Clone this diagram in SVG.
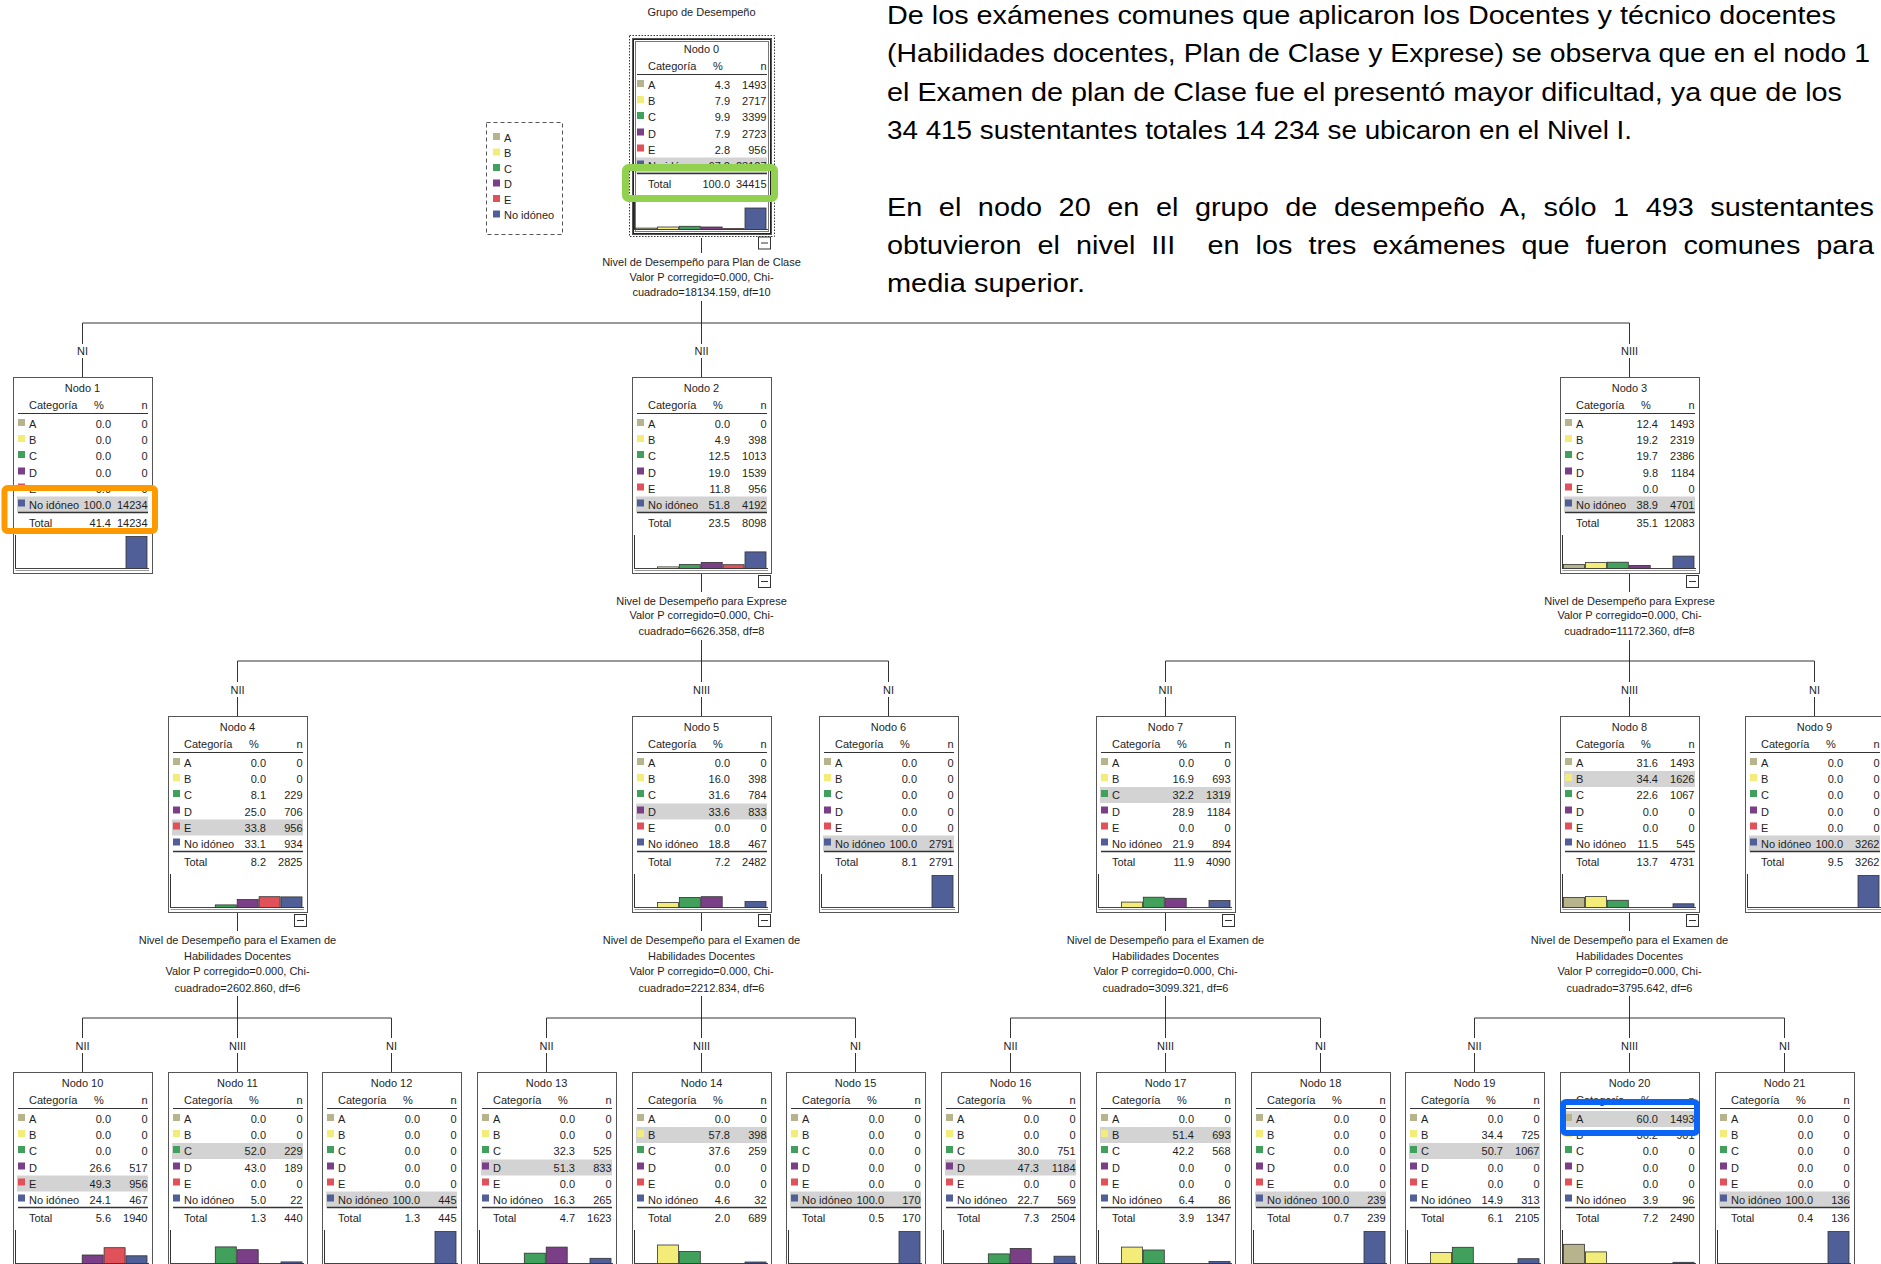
<svg xmlns="http://www.w3.org/2000/svg" xmlns:xlink="http://www.w3.org/1999/xlink" width="1881" height="1264" viewBox="0 0 1881 1264">
<style>
.t{font-family:"Liberation Sans",Arial,sans-serif;font-size:11px;fill:#1e1e1e}
.m{text-anchor:middle}
.e{text-anchor:end}
.p{font-family:"Liberation Sans",Arial,sans-serif;font-size:25px;fill:#000}
.bx{fill:#fff;stroke:#555;stroke-width:1}
.ln{stroke:#333;stroke-width:1;fill:none}
.hl{fill:#d3d3d3}
.b{stroke:#333;stroke-width:0.8}
.cA{fill:#b7b38c}.cB{fill:#f3ec78}.cC{fill:#40a05c}.cD{fill:#7b3f87}.cE{fill:#e0515a}.cN{fill:#505f97}
</style>
<defs>
<rect id="bg" class="bx" x="0.5" y="0.5" width="139" height="196"/>
<g id="fg">
<text class="t" x="16" y="32">Categoría</text><text class="t" x="81" y="32">%</text><text class="t e" x="134.5" y="32">n</text>
<line class="ln" x1="5" y1="36.5" x2="135" y2="36.5"/>
<rect class="cA" x="5" y="42" width="7" height="7"/><text class="t" x="16" y="51">A</text>
<rect class="cB" x="5" y="58" width="7" height="7"/><text class="t" x="16" y="67">B</text>
<rect class="cC" x="5" y="74" width="7" height="7"/><text class="t" x="16" y="83">C</text>
<rect class="cD" x="5" y="90.5" width="7" height="7"/><text class="t" x="16" y="99.5">D</text>
<rect class="cE" x="5" y="106.5" width="7" height="7"/><text class="t" x="16" y="115.5">E</text>
<rect class="cN" x="5" y="122.5" width="7" height="7"/><text class="t" x="16" y="131.5">No idóneo</text>
<line x1="5" y1="135.5" x2="135" y2="135.5" stroke="#333" stroke-width="1.6"/>
<text class="t" x="16" y="150">Total</text>
<line class="ln" x1="2.5" y1="158" x2="2.5" y2="192"/>
<line x1="2.5" y1="191.5" x2="136" y2="191.5" stroke="#444" stroke-width="1"/>
<line x1="2.5" y1="193.5" x2="136" y2="193.5" stroke="#999" stroke-width="1"/>
</g>
<g id="minus"><rect x="126.5" y="198.5" width="12" height="12" fill="#fff" stroke="#333"/><line x1="129" y1="204.5" x2="136" y2="204.5" stroke="#333"/></g>
</defs>
<rect width="1881" height="1264" fill="#fff"/>

<g id="paragraph">
<text class="p" x="887" y="24" textLength="949" lengthAdjust="spacingAndGlyphs">De los exámenes comunes que aplicaron los Docentes y técnico docentes</text>
<text class="p" x="887" y="62" textLength="983" lengthAdjust="spacingAndGlyphs">(Habilidades docentes, Plan de Clase y Exprese) se observa que en el nodo 1</text>
<text class="p" x="887" y="101" textLength="955" lengthAdjust="spacingAndGlyphs">el Examen de plan de Clase fue el presentó mayor dificultad, ya que de los</text>
<text class="p" x="887" y="139" textLength="745" lengthAdjust="spacingAndGlyphs">34 415 sustentantes totales 14 234 se ubicaron en el Nivel I.</text>
<text class="p" x="887" y="216" textLength="987" lengthAdjust="spacingAndGlyphs" word-spacing="7.4">En el nodo 20 en el grupo de desempeño A, sólo 1 493 sustentantes</text>
<text class="p" x="887" y="254" textLength="987" lengthAdjust="spacingAndGlyphs" word-spacing="7">obtuvieron el nivel III&#160; en los tres exámenes que fueron comunes para</text>
<text class="p" x="887" y="292" textLength="198" lengthAdjust="spacingAndGlyphs">media superior.</text>
</g>

<g id="legend">
<rect x="486.5" y="122.5" width="76" height="112" fill="none" stroke="#555" stroke-dasharray="4,3"/>
<rect class="cA" x="493" y="133" width="7" height="7"/><text class="t" x="504" y="141.5">A</text>
<rect class="cB" x="493" y="148.5" width="7" height="7"/><text class="t" x="504" y="157">B</text>
<rect class="cC" x="493" y="164" width="7" height="7"/><text class="t" x="504" y="172.5">C</text>
<rect class="cD" x="493" y="179.5" width="7" height="7"/><text class="t" x="504" y="188">D</text>
<rect class="cE" x="493" y="195" width="7" height="7"/><text class="t" x="504" y="203.5">E</text>
<rect class="cN" x="493" y="210.5" width="7" height="7"/><text class="t" x="504" y="219">No idóneo</text>
</g>

<text class="t m" x="701.5" y="16">Grupo de Desempeño</text>

<g id="connectors" class="ln">
<line x1="701.5" y1="238" x2="701.5" y2="253"/>
<line x1="701.5" y1="301" x2="701.5" y2="323"/>
<line x1="82.5" y1="323" x2="1629.5" y2="323"/>
<path d="M82.5 323V344M82.5 358V377M701.5 323V344M701.5 358V377M1629.5 323V344M1629.5 358V377"/>
<path d="M701.5 573V592M701.5 640V661M237.5 661H888.5M237.5 661V682M237.5 697V716M701.5 661V682M701.5 697V716M888.5 661V682M888.5 697V716"/>
<path d="M1629.5 573V592M1629.5 640V661M1165.5 661H1814.5M1165.5 661V682M1165.5 697V716M1629.5 661V682M1629.5 697V716M1814.5 661V682M1814.5 697V716"/>
<path d="M237.5 912V931M237.5 996V1018M82.5 1018H391.5M82.5 1018V1038M82.5 1053V1072M237.5 1018V1038M237.5 1053V1072M391.5 1018V1038M391.5 1053V1072"/>
<path d="M701.5 912V931M701.5 996V1018M546.5 1018H855.5M546.5 1018V1038M546.5 1053V1072M701.5 1018V1038M701.5 1053V1072M855.5 1018V1038M855.5 1053V1072"/>
<path d="M1165.5 912V931M1165.5 996V1018M1010.5 1018H1320.5M1010.5 1018V1038M1010.5 1053V1072M1165.5 1018V1038M1165.5 1053V1072M1320.5 1018V1038M1320.5 1053V1072"/>
<path d="M1629.5 912V931M1629.5 996V1018M1474.5 1018H1784.5M1474.5 1018V1038M1474.5 1053V1072M1629.5 1018V1038M1629.5 1053V1072M1784.5 1018V1038M1784.5 1053V1072"/>
</g>
<g id="connector-labels" class="t m">
<text x="701.5" y="266">Nivel de Desempeño para Plan de Clase</text>
<text x="701.5" y="280.5">Valor P corregido=0.000, Chi-</text>
<text x="701.5" y="296">cuadrado=18134.159, df=10</text>
<text x="82.5" y="355">NI</text><text x="701.5" y="355">NII</text><text x="1629.5" y="355">NIII</text>
<text x="701.5" y="605">Nivel de Desempeño para Exprese</text>
<text x="701.5" y="618.5">Valor P corregido=0.000, Chi-</text>
<text x="701.5" y="635">cuadrado=6626.358, df=8</text>
<text x="1629.5" y="605">Nivel de Desempeño para Exprese</text>
<text x="1629.5" y="618.5">Valor P corregido=0.000, Chi-</text>
<text x="1629.5" y="635">cuadrado=11172.360, df=8</text>
<text x="237.5" y="693.5">NII</text><text x="701.5" y="693.5">NIII</text><text x="888.5" y="693.5">NI</text>
<text x="1165.5" y="693.5">NII</text><text x="1629.5" y="693.5">NIII</text><text x="1814.5" y="693.5">NI</text>
<text x="237.5" y="944">Nivel de Desempeño para el Examen de</text>
<text x="237.5" y="960">Habilidades Docentes</text>
<text x="237.5" y="975">Valor P corregido=0.000, Chi-</text>
<text x="237.5" y="992">cuadrado=2602.860, df=6</text>
<text x="701.5" y="944">Nivel de Desempeño para el Examen de</text>
<text x="701.5" y="960">Habilidades Docentes</text>
<text x="701.5" y="975">Valor P corregido=0.000, Chi-</text>
<text x="701.5" y="992">cuadrado=2212.834, df=6</text>
<text x="1165.5" y="944">Nivel de Desempeño para el Examen de</text>
<text x="1165.5" y="960">Habilidades Docentes</text>
<text x="1165.5" y="975">Valor P corregido=0.000, Chi-</text>
<text x="1165.5" y="992">cuadrado=3099.321, df=6</text>
<text x="1629.5" y="944">Nivel de Desempeño para el Examen de</text>
<text x="1629.5" y="960">Habilidades Docentes</text>
<text x="1629.5" y="975">Valor P corregido=0.000, Chi-</text>
<text x="1629.5" y="992">cuadrado=3795.642, df=6</text>
<text x="82.5" y="1049.5">NII</text><text x="237.5" y="1049.5">NIII</text><text x="391.5" y="1049.5">NI</text>
<text x="546.5" y="1049.5">NII</text><text x="701.5" y="1049.5">NIII</text><text x="855.5" y="1049.5">NI</text>
<text x="1010.5" y="1049.5">NII</text><text x="1165.5" y="1049.5">NIII</text><text x="1320.5" y="1049.5">NI</text>
<text x="1474.5" y="1049.5">NII</text><text x="1629.5" y="1049.5">NIII</text><text x="1784.5" y="1049.5">NI</text>
</g>

<g id="node-0" transform="translate(632,38)">
<rect x="-2.5" y="-2.5" width="145" height="201" fill="none" stroke="#333" stroke-dasharray="1.5,1.5"/>
<use xlink:href="#bg"/>
<rect class="hl" x="4" y="119.5" width="131" height="16"/>
<use xlink:href="#fg"/>
<rect x="1.5" y="1.5" width="137" height="194" fill="none" stroke="#222" stroke-width="1"/>
<rect x="3.5" y="3.5" width="133" height="190" fill="none" stroke="#777" stroke-width="1"/>
<text class="t m" x="69.5" y="15">Nodo 0</text>
<g class="t e"><text x="98" y="51">4.3</text><text x="134.5" y="51">1493</text><text x="98" y="67">7.9</text><text x="134.5" y="67">2717</text><text x="98" y="83">9.9</text><text x="134.5" y="83">3399</text><text x="98" y="99.5">7.9</text><text x="134.5" y="99.5">2723</text><text x="98" y="115.5">2.8</text><text x="134.5" y="115.5">956</text><text x="98" y="131.5">67.2</text><text x="134.5" y="131.5">23127</text><text x="98" y="150">100.0</text><text x="134.5" y="150">34415</text></g>
<rect class="b cA" x="3.5" y="190.1" width="21" height="1.4"/><rect class="b cB" x="25.4" y="189" width="21" height="2.5"/><rect class="b cC" x="47.3" y="188.3" width="21" height="3.2"/><rect class="b cD" x="69.2" y="189" width="21" height="2.5"/><rect class="b cE" x="91.1" y="190.6" width="21" height="0.9"/><rect class="b cN" x="113" y="170" width="21" height="21.5"/>
<use xlink:href="#minus" y="0.5"/>
</g>

<g id="node-1" transform="translate(13,377)">
<use xlink:href="#bg"/><rect class="hl" x="4" y="119.5" width="131" height="16"/><use xlink:href="#fg"/>
<text class="t m" x="69.5" y="15">Nodo 1</text>
<g class="t e"><text x="98" y="51">0.0</text><text x="134.5" y="51">0</text><text x="98" y="67">0.0</text><text x="134.5" y="67">0</text><text x="98" y="83">0.0</text><text x="134.5" y="83">0</text><text x="98" y="99.5">0.0</text><text x="134.5" y="99.5">0</text><text x="98" y="115.5">0.0</text><text x="134.5" y="115.5">0</text><text x="98" y="131.5">100.0</text><text x="134.5" y="131.5">14234</text><text x="98" y="150">41.4</text><text x="134.5" y="150">14234</text></g>
<rect class="b cN" x="113" y="159.5" width="21" height="32"/>
</g>

<g id="node-2" transform="translate(632,377)">
<use xlink:href="#bg"/><rect class="hl" x="4" y="119.5" width="131" height="16"/><use xlink:href="#fg"/>
<text class="t m" x="69.5" y="15">Nodo 2</text>
<g class="t e"><text x="98" y="51">0.0</text><text x="134.5" y="51">0</text><text x="98" y="67">4.9</text><text x="134.5" y="67">398</text><text x="98" y="83">12.5</text><text x="134.5" y="83">1013</text><text x="98" y="99.5">19.0</text><text x="134.5" y="99.5">1539</text><text x="98" y="115.5">11.8</text><text x="134.5" y="115.5">956</text><text x="98" y="131.5">51.8</text><text x="134.5" y="131.5">4192</text><text x="98" y="150">23.5</text><text x="134.5" y="150">8098</text></g>
<rect class="b cB" x="25.4" y="189.9" width="21" height="1.6"/><rect class="b cC" x="47.3" y="187.5" width="21" height="4"/><rect class="b cD" x="69.2" y="185.4" width="21" height="6.1"/><rect class="b cE" x="91.1" y="187.7" width="21" height="3.8"/><rect class="b cN" x="113" y="174.9" width="21" height="16.6"/>
<use xlink:href="#minus"/>
</g>

<g id="node-3" transform="translate(1560,377)">
<use xlink:href="#bg"/><rect class="hl" x="4" y="119.5" width="131" height="16"/><use xlink:href="#fg"/>
<text class="t m" x="69.5" y="15">Nodo 3</text>
<g class="t e"><text x="98" y="51">12.4</text><text x="134.5" y="51">1493</text><text x="98" y="67">19.2</text><text x="134.5" y="67">2319</text><text x="98" y="83">19.7</text><text x="134.5" y="83">2386</text><text x="98" y="99.5">9.8</text><text x="134.5" y="99.5">1184</text><text x="98" y="115.5">0.0</text><text x="134.5" y="115.5">0</text><text x="98" y="131.5">38.9</text><text x="134.5" y="131.5">4701</text><text x="98" y="150">35.1</text><text x="134.5" y="150">12083</text></g>
<rect class="b cA" x="3.5" y="187.5" width="21" height="4"/><rect class="b cB" x="25.4" y="185.4" width="21" height="6.1"/><rect class="b cC" x="47.3" y="185.2" width="21" height="6.3"/><rect class="b cD" x="69.2" y="188.4" width="21" height="3.1"/><rect class="b cN" x="113" y="179.1" width="21" height="12.4"/>
<use xlink:href="#minus"/>
</g>

<g id="node-4" transform="translate(168,716)">
<use xlink:href="#bg"/><rect class="hl" x="4" y="103.5" width="131" height="16"/><use xlink:href="#fg"/>
<text class="t m" x="69.5" y="15">Nodo 4</text>
<g class="t e"><text x="98" y="51">0.0</text><text x="134.5" y="51">0</text><text x="98" y="67">0.0</text><text x="134.5" y="67">0</text><text x="98" y="83">8.1</text><text x="134.5" y="83">229</text><text x="98" y="99.5">25.0</text><text x="134.5" y="99.5">706</text><text x="98" y="115.5">33.8</text><text x="134.5" y="115.5">956</text><text x="98" y="131.5">33.1</text><text x="134.5" y="131.5">934</text><text x="98" y="150">8.2</text><text x="134.5" y="150">2825</text></g>
<rect class="b cC" x="47.3" y="188.9" width="21" height="2.6"/><rect class="b cD" x="69.2" y="183.5" width="21" height="8"/><rect class="b cE" x="91.1" y="180.7" width="21" height="10.8"/><rect class="b cN" x="113" y="180.9" width="21" height="10.6"/>
<use xlink:href="#minus"/>
</g>

<g id="node-5" transform="translate(632,716)">
<use xlink:href="#bg"/><rect class="hl" x="4" y="87.5" width="131" height="16"/><use xlink:href="#fg"/>
<text class="t m" x="69.5" y="15">Nodo 5</text>
<g class="t e"><text x="98" y="51">0.0</text><text x="134.5" y="51">0</text><text x="98" y="67">16.0</text><text x="134.5" y="67">398</text><text x="98" y="83">31.6</text><text x="134.5" y="83">784</text><text x="98" y="99.5">33.6</text><text x="134.5" y="99.5">833</text><text x="98" y="115.5">0.0</text><text x="134.5" y="115.5">0</text><text x="98" y="131.5">18.8</text><text x="134.5" y="131.5">467</text><text x="98" y="150">7.2</text><text x="134.5" y="150">2482</text></g>
<rect class="b cB" x="25.4" y="186.4" width="21" height="5.1"/><rect class="b cC" x="47.3" y="181.4" width="21" height="10.1"/><rect class="b cD" x="69.2" y="180.7" width="21" height="10.8"/><rect class="b cN" x="113" y="185.5" width="21" height="6"/>
<use xlink:href="#minus"/>
</g>

<g id="node-6" transform="translate(819,716)">
<use xlink:href="#bg"/><rect class="hl" x="4" y="119.5" width="131" height="16"/><use xlink:href="#fg"/>
<text class="t m" x="69.5" y="15">Nodo 6</text>
<g class="t e"><text x="98" y="51">0.0</text><text x="134.5" y="51">0</text><text x="98" y="67">0.0</text><text x="134.5" y="67">0</text><text x="98" y="83">0.0</text><text x="134.5" y="83">0</text><text x="98" y="99.5">0.0</text><text x="134.5" y="99.5">0</text><text x="98" y="115.5">0.0</text><text x="134.5" y="115.5">0</text><text x="98" y="131.5">100.0</text><text x="134.5" y="131.5">2791</text><text x="98" y="150">8.1</text><text x="134.5" y="150">2791</text></g>
<rect class="b cN" x="113" y="159.5" width="21" height="32"/>
</g>

<g id="node-7" transform="translate(1096,716)">
<use xlink:href="#bg"/><rect class="hl" x="4" y="71" width="131" height="16"/><use xlink:href="#fg"/>
<text class="t m" x="69.5" y="15">Nodo 7</text>
<g class="t e"><text x="98" y="51">0.0</text><text x="134.5" y="51">0</text><text x="98" y="67">16.9</text><text x="134.5" y="67">693</text><text x="98" y="83">32.2</text><text x="134.5" y="83">1319</text><text x="98" y="99.5">28.9</text><text x="134.5" y="99.5">1184</text><text x="98" y="115.5">0.0</text><text x="134.5" y="115.5">0</text><text x="98" y="131.5">21.9</text><text x="134.5" y="131.5">894</text><text x="98" y="150">11.9</text><text x="134.5" y="150">4090</text></g>
<rect class="b cB" x="25.4" y="186.1" width="21" height="5.4"/><rect class="b cC" x="47.3" y="181.2" width="21" height="10.3"/><rect class="b cD" x="69.2" y="182.3" width="21" height="9.2"/><rect class="b cN" x="113" y="184.5" width="21" height="7"/>
<use xlink:href="#minus"/>
</g>

<g id="node-8" transform="translate(1560,716)">
<use xlink:href="#bg"/><rect class="hl" x="4" y="55" width="131" height="16"/><use xlink:href="#fg"/>
<text class="t m" x="69.5" y="15">Nodo 8</text>
<g class="t e"><text x="98" y="51">31.6</text><text x="134.5" y="51">1493</text><text x="98" y="67">34.4</text><text x="134.5" y="67">1626</text><text x="98" y="83">22.6</text><text x="134.5" y="83">1067</text><text x="98" y="99.5">0.0</text><text x="134.5" y="99.5">0</text><text x="98" y="115.5">0.0</text><text x="134.5" y="115.5">0</text><text x="98" y="131.5">11.5</text><text x="134.5" y="131.5">545</text><text x="98" y="150">13.7</text><text x="134.5" y="150">4731</text></g>
<rect class="b cA" x="3.5" y="181.4" width="21" height="10.1"/><rect class="b cB" x="25.4" y="180.5" width="21" height="11"/><rect class="b cC" x="47.3" y="184.3" width="21" height="7.2"/><rect class="b cN" x="113" y="187.8" width="21" height="3.7"/>
<use xlink:href="#minus"/>
</g>

<g id="node-9" transform="translate(1745,716)">
<use xlink:href="#bg"/><rect class="hl" x="4" y="119.5" width="131" height="16"/><use xlink:href="#fg"/>
<text class="t m" x="69.5" y="15">Nodo 9</text>
<g class="t e"><text x="98" y="51">0.0</text><text x="134.5" y="51">0</text><text x="98" y="67">0.0</text><text x="134.5" y="67">0</text><text x="98" y="83">0.0</text><text x="134.5" y="83">0</text><text x="98" y="99.5">0.0</text><text x="134.5" y="99.5">0</text><text x="98" y="115.5">0.0</text><text x="134.5" y="115.5">0</text><text x="98" y="131.5">100.0</text><text x="134.5" y="131.5">3262</text><text x="98" y="150">9.5</text><text x="134.5" y="150">3262</text></g>
<rect class="b cN" x="113" y="159.5" width="21" height="32"/>
</g>

<g id="node-10" transform="translate(13,1072)">
<use xlink:href="#bg"/><rect class="hl" x="4" y="103.5" width="131" height="16"/><use xlink:href="#fg"/>
<text class="t m" x="69.5" y="15">Nodo 10</text>
<g class="t e"><text x="98" y="51">0.0</text><text x="134.5" y="51">0</text><text x="98" y="67">0.0</text><text x="134.5" y="67">0</text><text x="98" y="83">0.0</text><text x="134.5" y="83">0</text><text x="98" y="99.5">26.6</text><text x="134.5" y="99.5">517</text><text x="98" y="115.5">49.3</text><text x="134.5" y="115.5">956</text><text x="98" y="131.5">24.1</text><text x="134.5" y="131.5">467</text><text x="98" y="150">5.6</text><text x="134.5" y="150">1940</text></g>
<rect class="b cD" x="69.2" y="183" width="21" height="8.5"/><rect class="b cE" x="91.1" y="175.7" width="21" height="15.8"/><rect class="b cN" x="113" y="183.8" width="21" height="7.7"/>
</g>

<g id="node-11" transform="translate(168,1072)">
<use xlink:href="#bg"/><rect class="hl" x="4" y="71" width="131" height="16"/><use xlink:href="#fg"/>
<text class="t m" x="69.5" y="15">Nodo 11</text>
<g class="t e"><text x="98" y="51">0.0</text><text x="134.5" y="51">0</text><text x="98" y="67">0.0</text><text x="134.5" y="67">0</text><text x="98" y="83">52.0</text><text x="134.5" y="83">229</text><text x="98" y="99.5">43.0</text><text x="134.5" y="99.5">189</text><text x="98" y="115.5">0.0</text><text x="134.5" y="115.5">0</text><text x="98" y="131.5">5.0</text><text x="134.5" y="131.5">22</text><text x="98" y="150">1.3</text><text x="134.5" y="150">440</text></g>
<rect class="b cC" x="47.3" y="174.9" width="21" height="16.6"/><rect class="b cD" x="69.2" y="177.7" width="21" height="13.8"/><rect class="b cN" x="113" y="189.9" width="21" height="1.6"/>
</g>

<g id="node-12" transform="translate(322,1072)">
<use xlink:href="#bg"/><rect class="hl" x="4" y="119.5" width="131" height="16"/><use xlink:href="#fg"/>
<text class="t m" x="69.5" y="15">Nodo 12</text>
<g class="t e"><text x="98" y="51">0.0</text><text x="134.5" y="51">0</text><text x="98" y="67">0.0</text><text x="134.5" y="67">0</text><text x="98" y="83">0.0</text><text x="134.5" y="83">0</text><text x="98" y="99.5">0.0</text><text x="134.5" y="99.5">0</text><text x="98" y="115.5">0.0</text><text x="134.5" y="115.5">0</text><text x="98" y="131.5">100.0</text><text x="134.5" y="131.5">445</text><text x="98" y="150">1.3</text><text x="134.5" y="150">445</text></g>
<rect class="b cN" x="113" y="159.5" width="21" height="32"/>
</g>

<g id="node-13" transform="translate(477,1072)">
<use xlink:href="#bg"/><rect class="hl" x="4" y="87.5" width="131" height="16"/><use xlink:href="#fg"/>
<text class="t m" x="69.5" y="15">Nodo 13</text>
<g class="t e"><text x="98" y="51">0.0</text><text x="134.5" y="51">0</text><text x="98" y="67">0.0</text><text x="134.5" y="67">0</text><text x="98" y="83">32.3</text><text x="134.5" y="83">525</text><text x="98" y="99.5">51.3</text><text x="134.5" y="99.5">833</text><text x="98" y="115.5">0.0</text><text x="134.5" y="115.5">0</text><text x="98" y="131.5">16.3</text><text x="134.5" y="131.5">265</text><text x="98" y="150">4.7</text><text x="134.5" y="150">1623</text></g>
<rect class="b cC" x="47.3" y="181.2" width="21" height="10.3"/><rect class="b cD" x="69.2" y="175.1" width="21" height="16.4"/><rect class="b cN" x="113" y="186.3" width="21" height="5.2"/>
</g>

<g id="node-14" transform="translate(632,1072)">
<use xlink:href="#bg"/><rect class="hl" x="4" y="55" width="131" height="16"/><use xlink:href="#fg"/>
<text class="t m" x="69.5" y="15">Nodo 14</text>
<g class="t e"><text x="98" y="51">0.0</text><text x="134.5" y="51">0</text><text x="98" y="67">57.8</text><text x="134.5" y="67">398</text><text x="98" y="83">37.6</text><text x="134.5" y="83">259</text><text x="98" y="99.5">0.0</text><text x="134.5" y="99.5">0</text><text x="98" y="115.5">0.0</text><text x="134.5" y="115.5">0</text><text x="98" y="131.5">4.6</text><text x="134.5" y="131.5">32</text><text x="98" y="150">2.0</text><text x="134.5" y="150">689</text></g>
<rect class="b cB" x="25.4" y="173" width="21" height="18.5"/><rect class="b cC" x="47.3" y="179.5" width="21" height="12"/><rect class="b cN" x="113" y="190" width="21" height="1.5"/>
</g>

<g id="node-15" transform="translate(786,1072)">
<use xlink:href="#bg"/><rect class="hl" x="4" y="119.5" width="131" height="16"/><use xlink:href="#fg"/>
<text class="t m" x="69.5" y="15">Nodo 15</text>
<g class="t e"><text x="98" y="51">0.0</text><text x="134.5" y="51">0</text><text x="98" y="67">0.0</text><text x="134.5" y="67">0</text><text x="98" y="83">0.0</text><text x="134.5" y="83">0</text><text x="98" y="99.5">0.0</text><text x="134.5" y="99.5">0</text><text x="98" y="115.5">0.0</text><text x="134.5" y="115.5">0</text><text x="98" y="131.5">100.0</text><text x="134.5" y="131.5">170</text><text x="98" y="150">0.5</text><text x="134.5" y="150">170</text></g>
<rect class="b cN" x="113" y="159.5" width="21" height="32"/>
</g>

<g id="node-16" transform="translate(941,1072)">
<use xlink:href="#bg"/><rect class="hl" x="4" y="87.5" width="131" height="16"/><use xlink:href="#fg"/>
<text class="t m" x="69.5" y="15">Nodo 16</text>
<g class="t e"><text x="98" y="51">0.0</text><text x="134.5" y="51">0</text><text x="98" y="67">0.0</text><text x="134.5" y="67">0</text><text x="98" y="83">30.0</text><text x="134.5" y="83">751</text><text x="98" y="99.5">47.3</text><text x="134.5" y="99.5">1184</text><text x="98" y="115.5">0.0</text><text x="134.5" y="115.5">0</text><text x="98" y="131.5">22.7</text><text x="134.5" y="131.5">569</text><text x="98" y="150">7.3</text><text x="134.5" y="150">2504</text></g>
<rect class="b cC" x="47.3" y="181.9" width="21" height="9.6"/><rect class="b cD" x="69.2" y="176.4" width="21" height="15.1"/><rect class="b cN" x="113" y="184.2" width="21" height="7.3"/>
</g>

<g id="node-17" transform="translate(1096,1072)">
<use xlink:href="#bg"/><rect class="hl" x="4" y="55" width="131" height="16"/><use xlink:href="#fg"/>
<text class="t m" x="69.5" y="15">Nodo 17</text>
<g class="t e"><text x="98" y="51">0.0</text><text x="134.5" y="51">0</text><text x="98" y="67">51.4</text><text x="134.5" y="67">693</text><text x="98" y="83">42.2</text><text x="134.5" y="83">568</text><text x="98" y="99.5">0.0</text><text x="134.5" y="99.5">0</text><text x="98" y="115.5">0.0</text><text x="134.5" y="115.5">0</text><text x="98" y="131.5">6.4</text><text x="134.5" y="131.5">86</text><text x="98" y="150">3.9</text><text x="134.5" y="150">1347</text></g>
<rect class="b cB" x="25.4" y="175.1" width="21" height="16.4"/><rect class="b cC" x="47.3" y="178" width="21" height="13.5"/><rect class="b cN" x="113" y="189.5" width="21" height="2"/>
</g>

<g id="node-18" transform="translate(1251,1072)">
<use xlink:href="#bg"/><rect class="hl" x="4" y="119.5" width="131" height="16"/><use xlink:href="#fg"/>
<text class="t m" x="69.5" y="15">Nodo 18</text>
<g class="t e"><text x="98" y="51">0.0</text><text x="134.5" y="51">0</text><text x="98" y="67">0.0</text><text x="134.5" y="67">0</text><text x="98" y="83">0.0</text><text x="134.5" y="83">0</text><text x="98" y="99.5">0.0</text><text x="134.5" y="99.5">0</text><text x="98" y="115.5">0.0</text><text x="134.5" y="115.5">0</text><text x="98" y="131.5">100.0</text><text x="134.5" y="131.5">239</text><text x="98" y="150">0.7</text><text x="134.5" y="150">239</text></g>
<rect class="b cN" x="113" y="159.5" width="21" height="32"/>
</g>

<g id="node-19" transform="translate(1405,1072)">
<use xlink:href="#bg"/><rect class="hl" x="4" y="71" width="131" height="16"/><use xlink:href="#fg"/>
<text class="t m" x="69.5" y="15">Nodo 19</text>
<g class="t e"><text x="98" y="51">0.0</text><text x="134.5" y="51">0</text><text x="98" y="67">34.4</text><text x="134.5" y="67">725</text><text x="98" y="83">50.7</text><text x="134.5" y="83">1067</text><text x="98" y="99.5">0.0</text><text x="134.5" y="99.5">0</text><text x="98" y="115.5">0.0</text><text x="134.5" y="115.5">0</text><text x="98" y="131.5">14.9</text><text x="134.5" y="131.5">313</text><text x="98" y="150">6.1</text><text x="134.5" y="150">2105</text></g>
<rect class="b cB" x="25.4" y="180.5" width="21" height="11"/><rect class="b cC" x="47.3" y="175.3" width="21" height="16.2"/><rect class="b cN" x="113" y="186.7" width="21" height="4.8"/>
</g>

<g id="node-20" transform="translate(1560,1072)">
<use xlink:href="#bg"/><rect class="hl" x="4" y="39" width="131" height="16"/><use xlink:href="#fg"/>
<text class="t m" x="69.5" y="15">Nodo 20</text>
<g class="t e"><text x="98" y="51">60.0</text><text x="134.5" y="51">1493</text><text x="98" y="67">36.2</text><text x="134.5" y="67">901</text><text x="98" y="83">0.0</text><text x="134.5" y="83">0</text><text x="98" y="99.5">0.0</text><text x="134.5" y="99.5">0</text><text x="98" y="115.5">0.0</text><text x="134.5" y="115.5">0</text><text x="98" y="131.5">3.9</text><text x="134.5" y="131.5">96</text><text x="98" y="150">7.2</text><text x="134.5" y="150">2490</text></g>
<rect class="b cA" x="3.5" y="172.3" width="21" height="19.2"/><rect class="b cB" x="25.4" y="179.9" width="21" height="11.6"/><rect class="b cN" x="113" y="190.3" width="21" height="1.2"/>
</g>

<g id="node-21" transform="translate(1715,1072)">
<use xlink:href="#bg"/><rect class="hl" x="4" y="119.5" width="131" height="16"/><use xlink:href="#fg"/>
<text class="t m" x="69.5" y="15">Nodo 21</text>
<g class="t e"><text x="98" y="51">0.0</text><text x="134.5" y="51">0</text><text x="98" y="67">0.0</text><text x="134.5" y="67">0</text><text x="98" y="83">0.0</text><text x="134.5" y="83">0</text><text x="98" y="99.5">0.0</text><text x="134.5" y="99.5">0</text><text x="98" y="115.5">0.0</text><text x="134.5" y="115.5">0</text><text x="98" y="131.5">100.0</text><text x="134.5" y="131.5">136</text><text x="98" y="150">0.4</text><text x="134.5" y="150">136</text></g>
<rect class="b cN" x="113" y="159.5" width="21" height="32"/>
</g>

<g id="highlights" fill="none">
<rect x="625.5" y="167.5" width="149" height="31" rx="3" stroke="#92d050" stroke-width="7"/>
<rect x="4.5" y="488" width="150.5" height="43" rx="3" stroke="#ff9900" stroke-width="6"/>
<rect x="1563" y="1102" width="134" height="31" rx="3" stroke="#0a64f5" stroke-width="6"/>
</g>
</svg>
